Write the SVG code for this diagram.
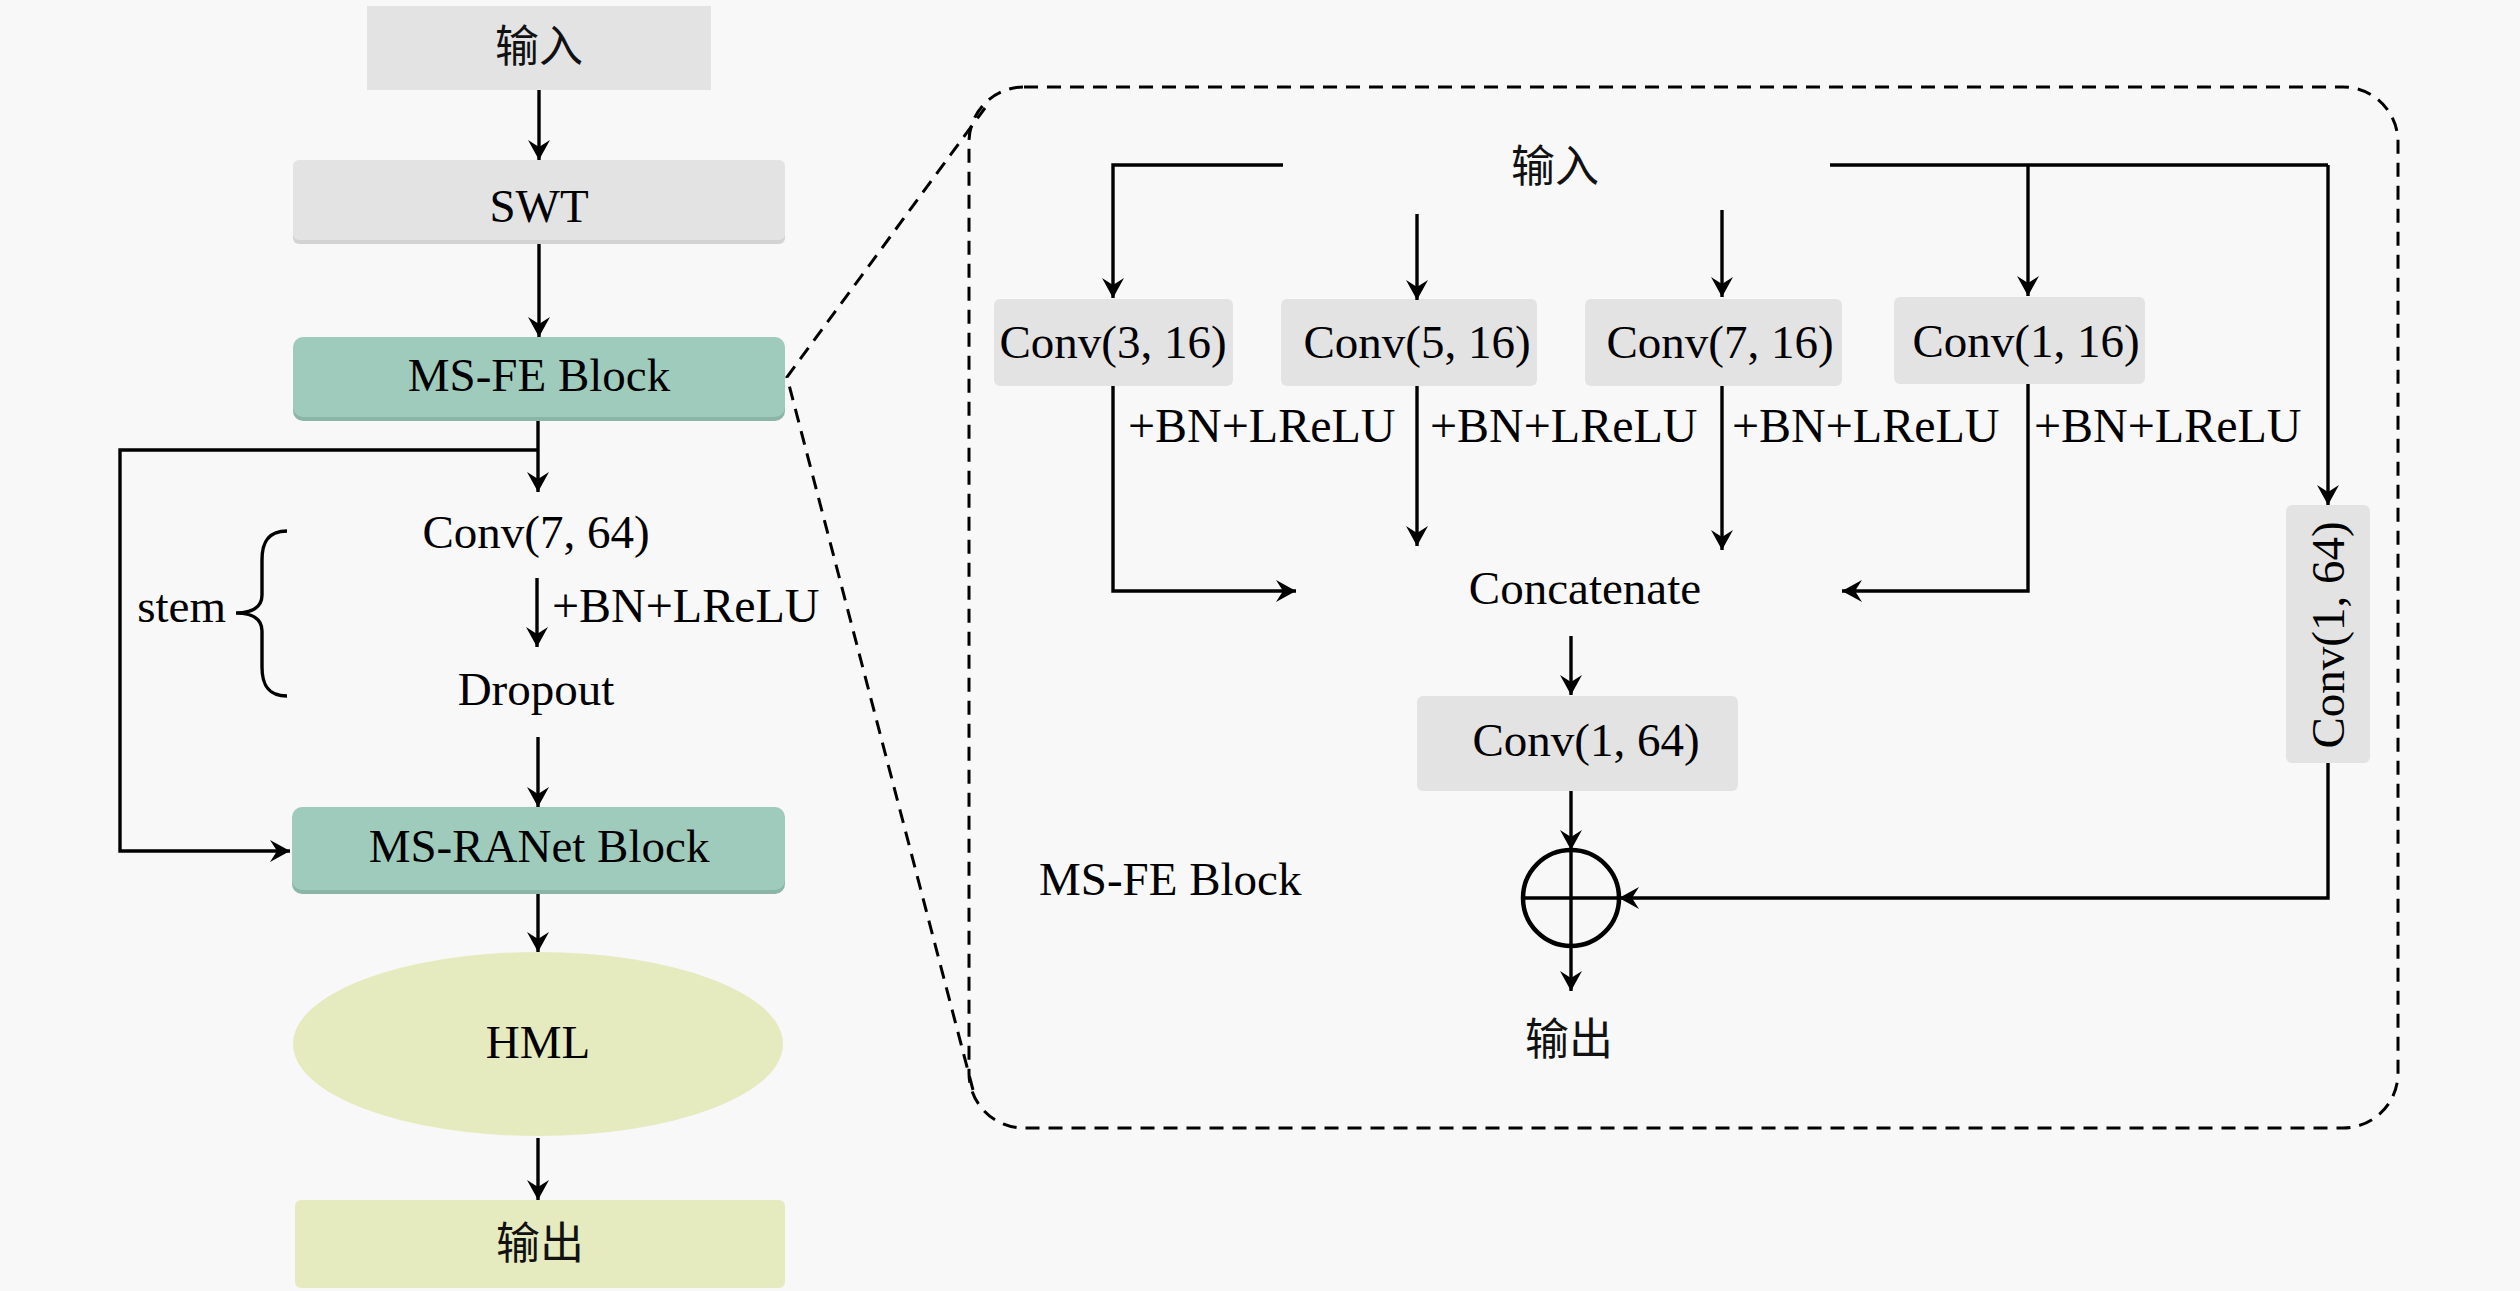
<svg xmlns="http://www.w3.org/2000/svg" width="2520" height="1291" viewBox="0 0 2520 1291">
<style>
.t{font-family:"Liberation Serif","Noto Sans CJK SC",serif;font-size:47px;fill:#000}
.c{text-anchor:middle}
.bn{font-size:48px}
.cjk{font-family:"Noto Sans CJK SC","Liberation Serif",sans-serif;font-size:44px;fill:#111;text-anchor:middle}
.gray{fill:#e3e3e3}
.teal{fill:#9fcbbc}
.tealsh{fill:#8ab5a7}
.graysh{fill:#d3d3d3}
.yel{fill:#e6ebbf}
.ln{fill:none;stroke:#000;stroke-width:3.4}
.arr{marker-end:url(#ah)}
.dash{fill:none;stroke:#000;stroke-width:3;stroke-dasharray:14 9}
</style>
<defs>
<marker id="ah" markerUnits="userSpaceOnUse" viewBox="-22 -12 24 24" refX="0" refY="0" markerWidth="24" markerHeight="24" orient="auto">
<path d="M0,0 L-20,-11 L-13,0 L-20,11 Z" fill="#000"/>
</marker>
</defs>
<rect x="0" y="0" width="2520" height="1291" fill="#f8f8f8"/>

<!-- Left column -->
<g id="n_input">
<rect class="gray" x="367" y="6" width="344" height="84"/>
<text class="cjk" x="539" y="62">输入</text>
</g>
<g id="n_swt">
<rect class="graysh" x="293" y="164" width="492" height="80" rx="6"/>
<rect class="gray" x="293" y="160" width="492" height="80" rx="6"/>
<text class="t c" x="539" y="222">SWT</text>
</g>
<g id="n_msfe">
<rect class="tealsh" x="293" y="341" width="492" height="80" rx="10"/>
<rect class="teal" x="293" y="337" width="492" height="80" rx="10"/>
<text class="t c" x="539" y="391">MS-FE Block</text>
</g>
<g id="n_stem">
<text class="t c" x="536" y="548">Conv(7, 64)</text>
<text class="t bn" x="552" y="622">+BN+LReLU</text>
<text class="t c" x="536" y="705">Dropout</text>
<text class="t" x="226" y="622" text-anchor="end">stem</text>
<path class="ln" d="M287,531 C266,531 262,545 262,560 L262,595 C262,607 252,613 236,613 C252,613 262,619 262,631 L262,667 C262,682 266,696 287,696"/>
</g>
<g id="n_msranet">
<rect class="tealsh" x="292" y="811" width="493" height="83" rx="10"/>
<rect class="teal" x="292" y="807" width="493" height="83" rx="10"/>
<text class="t c" x="539" y="862">MS-RANet Block</text>
</g>
<g id="n_hml">
<ellipse class="yel" cx="538" cy="1044" rx="245" ry="92"/>
<text class="t c" x="538" y="1058">HML</text>
</g>
<g id="n_output">
<rect class="yel" x="295" y="1200" width="490" height="88" rx="6"/>
<text class="cjk" x="540" y="1259">输出</text>
</g>

<!-- Detail (MS-FE Block) -->
<g id="n_detail">
<rect class="dash" x="969" y="87" width="1429" height="1041" rx="55"/>
<text class="t" x="1039" y="895">MS-FE Block</text>
</g>
<g id="n_in2">
<text class="cjk" x="1555" y="182">输入</text>
</g>
<g id="n_c3">
<rect class="gray" x="994" y="299" width="239" height="87" rx="6"/>
<text class="t c" x="1113" y="358">Conv(3, 16)</text>
</g>
<g id="n_c5">
<rect class="gray" x="1281" y="299" width="256" height="87" rx="6"/>
<text class="t c" x="1417" y="358">Conv(5, 16)</text>
</g>
<g id="n_c7">
<rect class="gray" x="1585" y="299" width="257" height="87" rx="6"/>
<text class="t c" x="1720" y="358">Conv(7, 16)</text>
</g>
<g id="n_c1">
<rect class="gray" x="1894" y="297" width="251" height="87" rx="6"/>
<text class="t c" x="2026" y="357">Conv(1, 16)</text>
</g>
<g id="n_bn">
<text class="t bn" x="1128" y="442">+BN+LReLU</text>
<text class="t bn" x="1430" y="442">+BN+LReLU</text>
<text class="t bn" x="1732" y="442">+BN+LReLU</text>
<text class="t bn" x="2034" y="442">+BN+LReLU</text>
</g>
<g id="n_concat">
<text class="t c" x="1585" y="604">Concatenate</text>
</g>
<g id="n_c164">
<rect class="gray" x="1417" y="696" width="321" height="95" rx="6"/>
<text class="t c" x="1586" y="756">Conv(1, 64)</text>
</g>
<g id="n_c164v">
<rect class="gray" x="2286" y="505" width="84" height="258" rx="6"/>
<text class="t c" transform="translate(2344,635) rotate(-90)">Conv(1, 64)</text>
</g>
<g id="n_add">
<circle cx="1571" cy="898" r="48" fill="none" stroke="#000" stroke-width="4.5"/>
<path d="M1523,898 H1619 M1571,850 V946" stroke="#000" stroke-width="3.4" fill="none"/>
</g>
<g id="n_out2">
<text class="cjk" x="1569" y="1055">输出</text>
</g>

<!-- Connectors -->
<g id="connectors">
<path class="ln arr" d="M539,90 V160"/>
<path class="ln arr" d="M539,244 V337"/>
<path class="ln arr" d="M538,421 V492"/>
<path class="ln arr" d="M537,578 V647"/>
<path class="ln arr" d="M538,737 V807"/>
<path class="ln arr" d="M538,450 H120 V851 H290"/>
<path class="ln arr" d="M538,894 V952"/>
<path class="ln arr" d="M538,1138 V1200"/>
<path class="dash" d="M973,1090 L787,377 L985,108"/>
<path class="ln arr" d="M1283,165 H1113 V298"/>
<path class="ln" d="M1830,165 H2328"/>
<path class="ln arr" d="M2328,165 V505"/>
<path class="ln arr" d="M2028,165 V296"/>
<path class="ln arr" d="M1417,214 V300"/>
<path class="ln arr" d="M1722,210 V297"/>
<path class="ln arr" d="M1113,386 V591 H1296"/>
<path class="ln arr" d="M1417,386 V546"/>
<path class="ln arr" d="M1722,386 V550"/>
<path class="ln arr" d="M2028,384 V591 H1842"/>
<path class="ln arr" d="M1571,636 V695"/>
<path class="ln arr" d="M1571,791 V850"/>
<path class="ln arr" d="M1571,946 V991"/>
<path class="ln arr" d="M2328,763 V898 H1619"/>
</g>
</svg>
